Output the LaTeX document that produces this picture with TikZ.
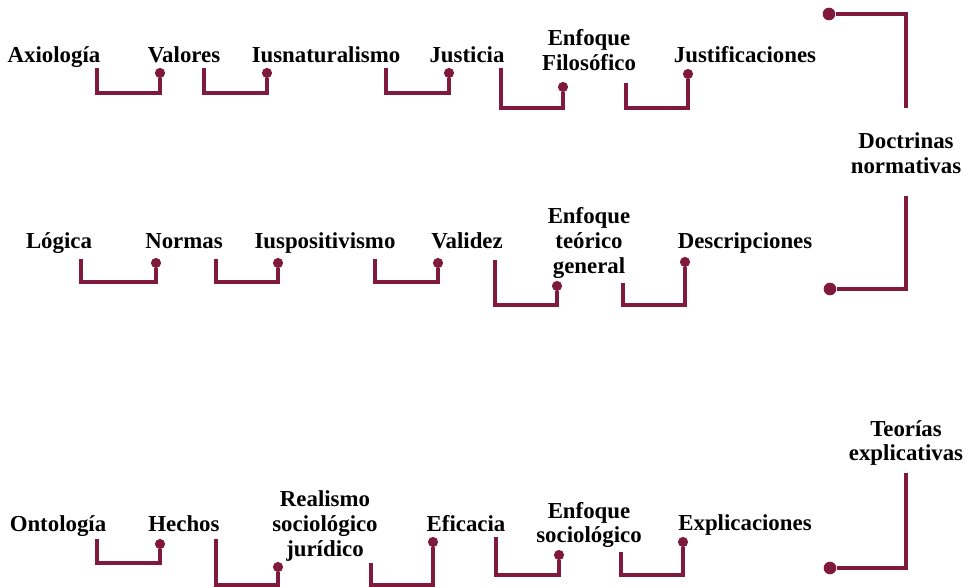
\documentclass[tikz,border=0pt]{standalone}
\usepackage{fontspec}
\setmainfont{Liberation Serif}
\definecolor{vino}{RGB}{128,25,62}
\begin{document}
\begin{tikzpicture}[x=0.02cm,y=-0.02cm]
        \tikzset{
          concept/.style={font=\bfseries\fontsize{13}{14}\selectfont,align=center,inner sep=0mm},
          link/.style={vino,line width=1.8pt},
          dot/.style={circle,fill=vino,inner sep=0mm,minimum size=5.8pt},
          bigdot/.style={circle,fill=vino,inner sep=0mm,minimum size=7.2pt},
        }
        \useasboundingbox (0,0) rectangle (974,587);

        %ROW 1
        \node[concept,anchor=base] (axio) at (54,63) {Axiología};
        \node[concept,anchor=base] (valo) at (184,63) {Valores};
        \node[concept,anchor=base] (iusn) at (326,63) {Iusnaturalismo};
        \node[concept,anchor=base] (just) at (467,63) {Justicia};
        \node[concept] (enfil) at (589,50) {Enfoque\\Filosófico};
        \node[concept,anchor=base] (justif) at (745,63) {Justificaciones};
        \node[concept] (doct) at (906,153) {Doctrinas\\normativas};

        \coordinate (a1) at (97,68);  \node[dot] (p1) at (160,73) {};
        \coordinate (a2) at (204,68); \node[dot] (p2) at (267,73) {};
        \coordinate (a3) at (386,68); \node[dot] (p3) at (449,73) {};
        \coordinate (a4) at (501,68); \node[dot] (p4) at (563,87) {};
        \coordinate (a5) at (626,83); \node[dot] (p5) at (688,74) {};
        \draw[link] (a1) -- (a1 |- 0,93) -| (p1);
        \draw[link] (a2) -- (a2 |- 0,93) -| (p2);
        \draw[link] (a3) -- (a3 |- 0,93) -| (p3);
        \draw[link] (a4) -- (a4 |- 0,108) -| (p4);
        \draw[link] (a5) -- (a5 |- 0,108) -| (p5);

        %BIG BRACKET
        \node[bigdot] (q1) at (829,14) {};
        \coordinate (t1) at (906,108);
        \coordinate (t2) at (906,196);
        \node[bigdot] (q2) at (830,289) {};
        \draw[link] (q1) -| (t1);
        \draw[link] (t2) |- (q2);

        %ROW 2
        \node[concept,anchor=base] (logi) at (59,249) {Lógica};
        \node[concept,anchor=base] (norm) at (184,249) {Normas};
        \node[concept,anchor=base] (iusp) at (325,249) {Iuspositivismo};
        \node[concept,anchor=base] (vali) at (467,249) {Validez};
        \node[concept] (enteo) at (589,243) {Enfoque\\teórico\\general};
        \node[concept,anchor=base] (desc) at (745,249) {Descripciones};

        \coordinate (b1) at (81,259);  \node[dot] (r1) at (156,263) {};
        \coordinate (b2) at (216,259); \node[dot] (r2) at (278,263) {};
        \coordinate (b3) at (375,259); \node[dot] (r3) at (438,263) {};
        \coordinate (b4) at (495,260); \node[dot] (r4) at (557,286) {};
        \coordinate (b5) at (623,283); \node[dot] (r5) at (685,262) {};
        \draw[link] (b1) -- (b1 |- 0,282) -| (r1);
        \draw[link] (b2) -- (b2 |- 0,282) -| (r2);
        \draw[link] (b3) -- (b3 |- 0,282) -| (r3);
        \draw[link] (b4) -- (b4 |- 0,305) -| (r4);
        \draw[link] (b5) -- (b5 |- 0,305) -| (r5);

        %ROW 3
        \node[concept,anchor=base] (onto) at (58,531) {Ontología};
        \node[concept,anchor=base] (hech) at (184,531) {Hechos};
        \node[concept] (real) at (325,526) {Realismo\\sociológico\\jurídico};
        \node[concept,anchor=base] (efic) at (466,531) {Eficacia};
        \node[concept] (ensoc) at (589,525) {Enfoque\\sociológico};
        \node[concept,anchor=base] (expl) at (745,530) {Explicaciones};
        \node[concept] (teor) at (906,443) {Teorías\\explicativas};

        \coordinate (c1) at (97,539);  \node[dot] (s1) at (160,544) {};
        \coordinate (c2) at (216,539); \node[dot] (s2) at (278,567) {};
        \coordinate (c3) at (371,563); \node[dot] (s3) at (433,542) {};
        \coordinate (c4) at (496,537); \node[dot] (s4) at (559,555) {};
        \coordinate (c5) at (621,552); \node[dot] (s5) at (683,542) {};
        \draw[link] (c1) -- (c1 |- 0,563) -| (s1);
        \draw[link] (c2) -- (c2 |- 0,585) -| (s2);
        \draw[link] (c3) -- (c3 |- 0,585) -| (s3);
        \draw[link] (c4) -- (c4 |- 0,575) -| (s4);
        \draw[link] (c5) -- (c5 |- 0,575) -| (s5);

        \coordinate (t3) at (906,473);
        \node[bigdot] (q3) at (830,568) {};
        \draw[link] (t3) |- (q3);
\end{tikzpicture}
\end{document}
